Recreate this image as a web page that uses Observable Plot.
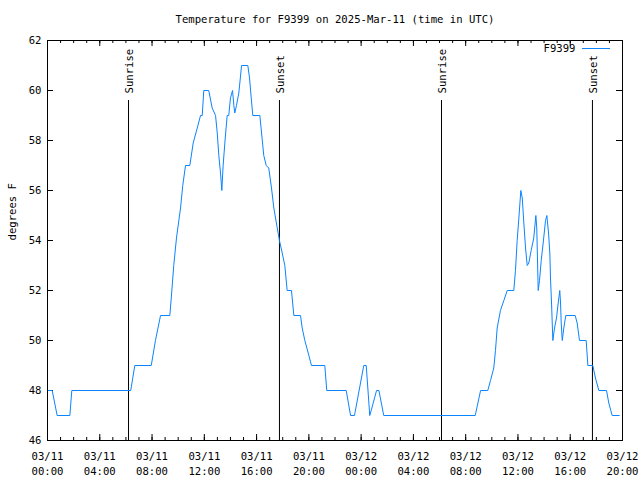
<!DOCTYPE html>
<html>
<head>
<meta charset="utf-8">
<script src="https://cdn.jsdelivr.net/npm/d3@7"></script>
<script src="https://cdn.jsdelivr.net/npm/@observablehq/plot@0.6"></script>
<style>
  html, body { margin: 0; padding: 0; background: #fff; }
  #chart { position: relative; width: 640px; height: 480px; }
</style>
</head>
<body>
<div id="chart"></div>
<script>
// Hours since 2025-03-11 00:00 UTC
const hours = [0, 0.36, 0.74, 1.71, 1.86, 6.37, 6.68, 7.94, 8.26, 8.65, 9.36, 9.47, 9.66, 9.87, 10.18, 10.35, 10.56, 10.89, 11.15, 11.46, 11.71, 11.84, 11.96, 12.34, 12.6, 12.86, 12.99, 13.11, 13.24, 13.34, 13.44, 13.6, 13.75, 13.87, 14.0, 14.16, 14.26, 14.33, 14.46, 14.64, 14.85, 15.33, 15.46, 15.59, 15.71, 16.25, 16.38, 16.55, 16.74, 16.93, 17.14, 17.32, 17.58, 17.75, 17.96, 18.16, 18.34, 18.67, 18.85, 19.36, 19.49, 19.69, 19.95, 20.2, 21.22, 21.37, 22.86, 23.19, 23.49, 24.2, 24.39, 24.66, 24.77, 25.18, 25.36, 25.73, 32.73, 33.14, 33.69, 33.9, 34.15, 34.28, 34.41, 34.66, 34.92, 35.18, 35.68, 35.81, 35.94, 36.07, 36.22, 36.33, 36.45, 36.58, 36.71, 36.83, 37.01, 37.21, 37.37, 37.44, 37.55, 37.65, 37.78, 37.93, 38.11, 38.21, 38.34, 38.44, 38.49, 38.57, 38.67, 38.8, 38.95, 39.08, 39.2, 39.26, 39.31, 39.39, 39.51, 39.66, 40.38, 40.53, 40.71, 41.22, 41.35, 41.73, 41.93, 42.19, 42.78, 42.95, 43.21, 43.75];
const temps = [48, 48, 47, 47, 48, 48, 49, 49, 50, 51, 51, 51.7, 53, 54.1, 55.3, 56.2, 57, 57, 57.9, 58.5, 59, 59, 60, 60, 59.3, 59, 58.3, 57.4, 56.7, 56, 57, 58.1, 59, 59, 59.7, 60, 59.4, 59.1, 59.4, 59.9, 61, 61, 60.5, 59.7, 59, 59, 58.3, 57.4, 57, 56.9, 56.1, 55.3, 54.5, 54, 53.5, 53, 52, 52, 51, 51, 50.5, 50, 49.5, 49, 49, 48, 48, 47, 47, 49, 49, 47, 47.2, 48, 48, 47, 47, 48, 48, 48.4, 48.9, 49.6, 50.5, 51.2, 51.6, 52, 52, 52.8, 54, 54.9, 56, 55.7, 54.7, 53.7, 53, 53.1, 53.6, 54.1, 55, 54.5, 52, 52.4, 53.2, 53.9, 54.8, 55, 54.3, 53.5, 52.5, 51.5, 50, 50.5, 50.9, 51.5, 52, 51.5, 50.7, 50, 50.5, 51, 51, 50.7, 50, 50, 49, 49, 48.5, 48, 48, 47.5, 47, 47];

const sunLabels = ["Sunrise", "Sunset", "Sunrise", "Sunset"];
const sunHours = [6.2, 17.75, 30.15, 41.7];

const yTicks = [46, 48, 50, 52, 54, 56, 58, 60, 62];
const seriesName = "F9399";
const title = "Temperature for F9399 on 2025-Mar-11 (time in UTC)";
const yLabel = "degrees F";

const t0 = Date.UTC(2025, 2, 11, 0, 0);
const toDate = h => new Date(t0 + h * 3600e3);
const data = hours.map((h, i) => ({time: toDate(h), temp: temps[i]}));
const sun = sunHours.map((h, i) => ({time: toDate(h), label: sunLabels[i]}));
const domain = [toDate(0), toDate(44)];
const majorTicks = d3.utcHour.every(4).range(domain[0], new Date(+domain[1] + 1));
const minorTicks = d3.utcHour.every(1).range(domain[0], new Date(+domain[1] + 1));
const fmt = d3.utcFormat("%m/%d\n%H:%M");

const W = 640, H = 480, ML = 47, MR = 18, MT = 40, MB = 40;
const FW = W - ML - MR, FH = H - MT - MB;
const col = "#0a84ff";

const plot = Plot.plot({
  width: W, height: H,
  marginLeft: ML, marginRight: MR, marginTop: MT, marginBottom: MB,
  style: {fontFamily: "DejaVu Sans Mono", fontSize: "10.6px", background: "#fff", color: "#000"},
  x: {type: "utc", domain, axis: null},
  y: {domain: [46, 62], axis: null},
  marks: [
    // y tick labels
    Plot.axisY({ticks: yTicks, tickSize: 0, tickPadding: 6, tickFormat: d => String(d), label: null}),
    // inward ticks on y (left & right)
    Plot.tickY(yTicks, {y: d => d, insetRight: FW - 6, stroke: "#000"}),
    Plot.tickY(yTicks, {y: d => d, insetLeft: FW - 6, stroke: "#000"}),
    // inward ticks on x (bottom & top), major and minor
    Plot.tickX(minorTicks, {x: d => d, insetTop: FH - 3, stroke: "#000"}),
    Plot.tickX(majorTicks, {x: d => d, insetTop: FH - 6, stroke: "#000"}),
    Plot.tickX(minorTicks, {x: d => d, insetBottom: FH - 3, stroke: "#000"}),
    Plot.tickX(majorTicks, {x: d => d, insetBottom: FH - 6, stroke: "#000"}),
    // x tick labels
    Plot.text(majorTicks, {x: d => d, frameAnchor: "bottom", lineAnchor: "middle", dy: 22, text: d => fmt(d), lineHeight: 1.42, fill: "#000"}),
    // sunrise / sunset
    Plot.ruleX(sun, {x: "time", y1: 59.6, y2: 46, stroke: "#000", strokeWidth: 1}),
    Plot.text(sun, {x: "time", y: 59.6, text: "label", rotate: -90, textAnchor: "start", dy: -7, dx: 1, fill: "#000"}),
    // data line
    Plot.line(data, {x: "time", y: "temp", stroke: col, strokeWidth: 1}),
    Plot.frame({stroke: "#000"}),
    // title
    Plot.text([title], {frameAnchor: "top", lineAnchor: "middle", dy: -21, text: d => d, fill: "#000"}),
    // y label
    Plot.text([yLabel], {frameAnchor: "left", lineAnchor: "middle", dx: -35, rotate: -90, text: d => d, fill: "#000"}),
    // legend label
    Plot.text([seriesName], {frameAnchor: "top-right", lineAnchor: "middle", dx: -47, dy: 8, textAnchor: "end", text: d => d, fill: "#000"})
  ]
});
document.getElementById("chart").appendChild(plot);
// legend sample line
d3.select(plot).append("line")
  .attr("x1", 582).attr("x2", 610).attr("y1", 48.5).attr("y2", 48.5)
  .attr("stroke", col).attr("stroke-width", 1);
</script>
</body>
</html>
